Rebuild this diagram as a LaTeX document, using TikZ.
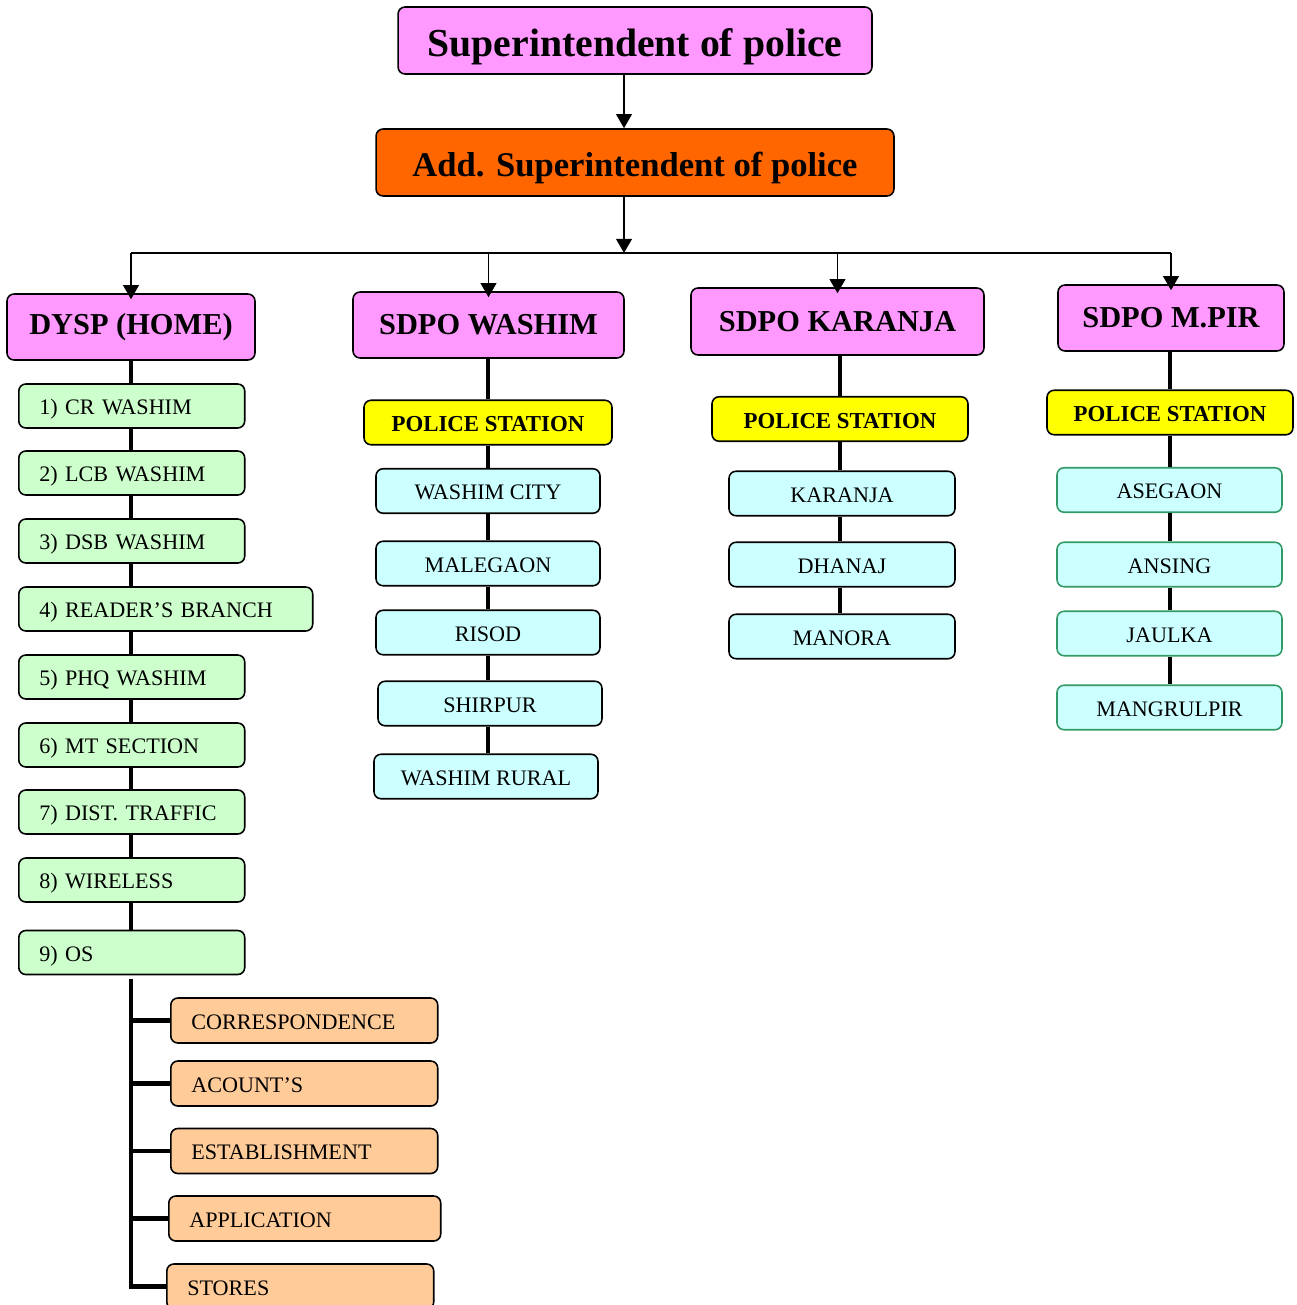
\documentclass[tikz,border=0pt]{standalone}
\usepackage{fontspec}
\setmainfont{Liberation Serif}
\usepackage{tikz}
\usetikzlibrary{arrows.meta}
\usetikzlibrary{positioning}

\definecolor{pinkbox}{HTML}{FF99FF}
\definecolor{aspbox}{HTML}{FF6600}
\definecolor{psbox}{HTML}{FFFF00}
\definecolor{greenbox}{HTML}{CCFFCC}
\definecolor{cyanbox}{HTML}{CCFFFF}
\definecolor{peachbox}{HTML}{FFCC99}
\definecolor{tealline}{HTML}{339966}

\tikzset{
    box/.style={draw, rectangle, rounded corners=4pt, line width=0.9pt, inner sep=0pt},
    smalltext/.style={font=\fontsize{12.6}{15}\selectfont, text height=11.3pt, text depth=1.3pt},
    headbox/.style={box, fill=pinkbox, minimum height=1.32cm, font=\bfseries\fontsize{17.3}{20}\selectfont},
    stationhead/.style={box, fill=psbox, minimum height=0.89cm, font=\bfseries\fontsize{13}{15}\selectfont,
        text height=11.7pt, text depth=1.3pt},
    stationbox/.style={box, smalltext, fill=cyanbox, minimum height=0.89cm, minimum width=4.5cm},
    unitbox/.style={box, smalltext, fill=greenbox, anchor=west, minimum height=0.88cm, inner xsep=0.41cm,
        text width=#1, align=left},
    unitbox/.default=3.7cm,
    officebox/.style={box, smalltext, fill=peachbox, anchor=west, minimum height=0.9cm, inner xsep=0.41cm,
        text width=4.52cm, align=left},
    trunk/.style={line width=2.8pt},
    feed/.style={-{Triangle[width=9pt, length=8pt]}, line width=0.75pt},
}

\begin{document}
\begin{tikzpicture}[x=0.02cm, y=-0.02cm]
        \useasboundingbox (0, 0) rectangle (1297, 1305);

        \node[box, fill=pinkbox, minimum width=9.48cm, minimum height=1.34cm,
            font=\bfseries\fontsize{22.6}{26}\selectfont, text height=20.3pt, text depth=2.3pt]
            (sp) at (635, 40.5) {Superintendent of police};
        \node[box, fill=aspbox, minimum width=10.36cm, minimum height=1.34cm,
            font=\bfseries\fontsize{19.7}{23}\selectfont, text height=17.7pt, text depth=2pt]
            (asp) at (635, 162.5) {Add. Superintendent of police};

        \node[headbox, minimum width=4.96cm] (dysp) at (131, 327) {DYSP (HOME)};
        \node[headbox, minimum width=5.42cm] (sw) at (488.5, 325) {SDPO WASHIM};
        \node[headbox, minimum width=5.86cm, minimum height=1.34cm] (sk) at (837.5, 321.5) {SDPO KARANJA};
        \node[headbox, minimum width=4.52cm] (sm) at (1171, 318) {SDPO M.PIR};

        \node[unitbox] (u1) at (18, 406) {1) CR WASHIM};
        \node[unitbox] (u2) at (18, 473) {2) LCB WASHIM};
        \node[unitbox] (u3) at (18, 541) {3) DSB WASHIM};
        \node[unitbox=5.06cm] (u4) at (18, 609) {4) READER’S BRANCH};
        \node[unitbox] (u5) at (18, 677) {5) PHQ WASHIM};
        \node[unitbox] (u6) at (18, 745) {6) MT SECTION};
        \node[unitbox] (u7) at (18, 812) {7) DIST. TRAFFIC};
        \node[unitbox] (u8) at (18, 880) {8) WIRELESS};
        \node[unitbox] (u9) at (18, 952.5) {9) OS};

        \node[officebox] (o1) at (170, 1020.5) {CORRESPONDENCE};
        \node[officebox] (o2) at (170, 1083.5) {ACOUNT’S};
        \node[officebox] (o3) at (170, 1151) {ESTABLISHMENT};
        \node[officebox, text width=4.62cm] (o4) at (168, 1218.5) {APPLICATION};
        \node[officebox] (o5) at (166, 1286.5) {STORES};

        \node[stationhead, minimum width=4.96cm] (wps) at (488, 422.5) {POLICE STATION};
        \node[stationbox, minimum width=4.48cm] (w1) at (488, 491) {WASHIM CITY};
        \node[stationbox, minimum width=4.48cm] (w2) at (488, 563.5) {MALEGAON};
        \node[stationbox, minimum width=4.48cm] (w3) at (488, 632.5) {RISOD};
        \node[stationbox, minimum width=4.48cm] (w4) at (490, 703.5) {SHIRPUR};
        \node[stationbox, minimum width=4.48cm] (w5) at (486, 776.5) {WASHIM RURAL};

        \node[stationhead, minimum width=5.12cm] (kps) at (840, 419) {POLICE STATION};
        \node[stationbox, minimum width=4.52cm] (k1) at (842, 493.5) {KARANJA};
        \node[stationbox, minimum width=4.52cm] (k2) at (842, 564.5) {DHANAJ};
        \node[stationbox, minimum width=4.52cm] (k3) at (842, 636.5) {MANORA};

        \node[stationhead, minimum width=4.92cm] (mps) at (1170, 412.5) {POLICE STATION};
        \node[stationbox, draw=tealline] (m1) at (1169.5, 490) {ASEGAON};
        \node[stationbox, draw=tealline] (m2) at (1169.5, 564.5) {ANSING};
        \node[stationbox, draw=tealline] (m3) at (1169.5, 633.5) {JAULKA};
        \node[stationbox, draw=tealline] (m4) at (1169.5, 707.5) {MANGRULPIR};

        \coordinate (hub) at (624, 253);

        \begin{scope}[feed]
            \draw (sp.south -| hub) -- (asp.north -| hub);
            \draw (asp.south -| hub) -- (hub);
            \foreach \n in {dysp, sw, sk, sm}
                \draw (\n.north |- hub) -- ([yshift=-0.12cm]\n.north);
        \end{scope}
        \draw[line width=0.75pt] (dysp.north |- hub) -- (sm.north |- hub);

        \begin{scope}[trunk]
            \foreach \a/\b in {dysp/u1, u1/u2, u2/u3, u3/u4, u4/u5, u5/u6, u6/u7, u7/u8, u8/u9}
                \draw (dysp.south |- \a.south) -- (dysp.south |- \b.north);
            \foreach \a/\b in {sw/wps, wps/w1, w1/w2, w2/w3, w3/w4, w4/w5}
                \draw (wps.south |- \a.south) -- (wps.south |- \b.north);
            \foreach \a/\b in {sk/kps, kps/k1, k1/k2, k2/k3}
                \draw (kps.south |- \a.south) -- (kps.south |- \b.north);
            \foreach \a/\b in {sm/mps, mps/m1, m1/m2, m2/m3, m3/m4}
                \draw (mps.south |- \a.south) -- (mps.south |- \b.north);

            \draw ([yshift=-0.08cm]dysp.south |- u9.south) -- (dysp.south |- o5.west) -- (o5.west);
            \foreach \o in {o1, o2, o3, o4}
                \draw (dysp.south |- \o.west) -- (\o.west);
        \end{scope}

    \end{tikzpicture}
\end{document}
